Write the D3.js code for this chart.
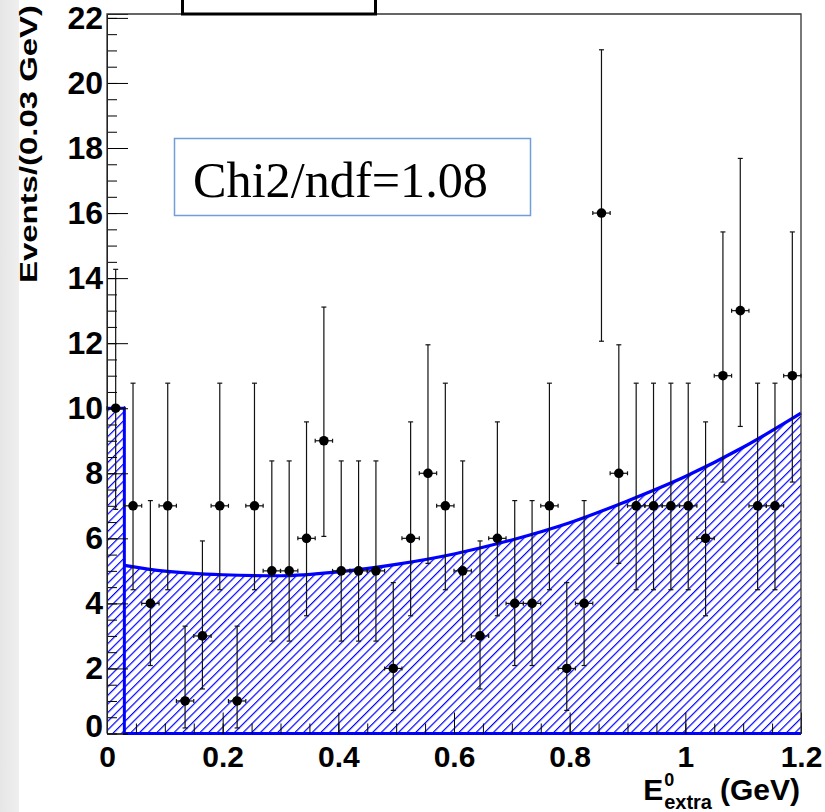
<!doctype html>
<html lang="en">
<head>
<meta charset="utf-8">
<title>E extra fit</title>
<script src="https://d3js.org/d3.v7.min.js"></script>
<style>
  body { margin: 0; background: #fff; }
  svg { display: block; }
  .tick text { font-family: "Liberation Sans", Arial, sans-serif; font-weight: bold; fill: #000; }
  .axis path, .axis line { stroke: #000; }
</style>
</head>
<body>
<script>
// bin centres (GeV), 0.03 GeV bins
const binCenter = [0.015, 0.045, 0.075, 0.105, 0.135, 0.165, 0.195, 0.225, 0.255, 0.285,
                   0.315, 0.345, 0.375, 0.405, 0.435, 0.465, 0.495, 0.525, 0.555, 0.585,
                   0.615, 0.645, 0.675, 0.705, 0.735, 0.765, 0.795, 0.825, 0.855, 0.885,
                   0.915, 0.945, 0.975, 1.005, 1.035, 1.065, 1.095, 1.125, 1.155, 1.185];
const counts = [10, 7, 4, 7, 1, 3, 7, 1, 7, 5,
                5, 6, 9, 5, 5, 5, 2, 6, 8, 7,
                5, 3, 6, 4, 4, 7, 2, 4, 16, 8,
                7, 7, 7, 7, 6, 11, 13, 7, 7, 11];
const binHalf = 0.015;

// asymmetric error bar ends, looked up by count
const errN    = [1, 2, 3, 4, 5, 6, 7, 8, 9, 10, 11, 13, 16];
const errLow  = [0.17, 0.71, 1.37, 2.09, 2.84, 3.62, 4.42, 5.23, 6.06, 6.89, 7.73, 9.44, 12.06];
const errHigh = [3.30, 4.64, 5.92, 7.16, 8.38, 9.58, 10.77, 11.95, 13.11, 14.27, 15.42, 17.68, 21.02];

// fit: narrow first bin + smooth background
const peakEdges = [0, 0.03];
const peakHeight = 10;
const fitX = [0.03, 0.1, 0.2, 0.3, 0.4, 0.5, 0.6, 0.7, 0.8, 0.9, 1.0, 1.1, 1.2];
const fitY = [5.17, 4.99, 4.88, 4.85, 4.97, 5.2, 5.52, 5.95, 6.48, 7.15, 7.9, 8.8, 9.85];

const yTicks = [0, 2, 4, 6, 8, 10, 12, 14, 16, 18, 20, 22];
const xTicks = [0, 0.2, 0.4, 0.6, 0.8, 1, 1.2];

const W = 825, H = 812;
const pLeft = 107, pRight = 801, pTop = 14, pBottom = 733.5;

const svg = d3.select("body").append("svg")
    .attr("width", W)
    .attr("height", H);

const defs = svg.append("defs");
const grad = defs.append("linearGradient").attr("id", "strip");
grad.append("stop").attr("offset", "0%").attr("stop-color", "#e6e6e6");
grad.append("stop").attr("offset", "100%").attr("stop-color", "#efefef");

defs.append("pattern")
    .attr("id", "hatch")
    .attr("patternUnits", "userSpaceOnUse")
    .attr("width", 6.1)
    .attr("height", 6.1)
    .attr("patternTransform", "rotate(45)")
  .append("line")
    .attr("x1", 0.6).attr("y1", 0)
    .attr("x2", 0.6).attr("y2", 6.1)
    .attr("stroke", "#0000ff")
    .attr("stroke-width", 1.2);

// slide strip at the left edge
svg.append("rect")
    .attr("x", 0).attr("y", 0)
    .attr("width", 19).attr("height", H)
    .attr("fill", "url(#strip)");

const x = d3.scaleLinear().domain([0, 1.2]).range([pLeft, pRight]);
const y = d3.scaleLinear().domain([0, 22.12]).range([pBottom, pTop]);

// hatched fit areas
svg.append("rect")
    .attr("x", x(peakEdges[0]))
    .attr("y", y(peakHeight))
    .attr("width", x(peakEdges[1]) - x(peakEdges[0]))
    .attr("height", y(0) - y(peakHeight))
    .attr("fill", "url(#hatch)");

const fitPts = fitX.map((v, i) => [v, fitY[i]]);

svg.append("path")
    .datum(fitPts)
    .attr("fill", "url(#hatch)")
    .attr("d", d3.area()
        .x(d => x(d[0]))
        .y0(y(0))
        .y1(d => y(d[1]))
        .curve(d3.curveMonotoneX));

// blue outline
const outline = [[peakEdges[0], peakHeight], [peakEdges[1], peakHeight], [peakEdges[1], 0], [fitX[fitX.length - 1], 0]];
svg.append("path")
    .datum(outline)
    .attr("fill", "none")
    .attr("stroke", "#0000ff")
    .attr("stroke-width", 3)
    .attr("d", d3.line().x(d => x(d[0])).y(d => y(d[1])));

svg.append("path")
    .datum(fitPts)
    .attr("fill", "none")
    .attr("stroke", "#0000ff")
    .attr("stroke-width", 3.2)
    .attr("d", d3.line()
        .x(d => x(d[0]))
        .y(d => y(d[1]))
        .curve(d3.curveMonotoneX));

// axes, ticks drawn inside the frame
const yAxis = svg.append("g")
    .attr("class", "axis")
    .attr("transform", `translate(${pLeft},0)`)
    .call(d3.axisLeft(y).tickValues(d3.range(0, 22.01, 0.5)).tickSize(-10).tickFormat(""));
yAxis.select(".domain").remove();

const yMajor = svg.append("g")
    .attr("class", "axis")
    .attr("transform", `translate(${pLeft},0)`)
    .call(d3.axisLeft(y).tickValues(yTicks).tickSize(-21).tickPadding(5).tickFormat(d3.format("d")));
yMajor.selectAll(".tick text").attr("font-size", 32).attr("x", -4);
yMajor.selectAll(".tick text").filter(d => d === 0).attr("dy", "0.08em");

const xMinor = svg.append("g")
    .attr("class", "axis")
    .attr("transform", `translate(0,${pBottom})`)
    .call(d3.axisBottom(x).tickValues(d3.range(0, 1.2001, 0.05)).tickSize(-10).tickFormat(""));
xMinor.select(".domain").remove();

const xMajor = svg.append("g")
    .attr("class", "axis")
    .attr("transform", `translate(0,${pBottom})`)
    .call(d3.axisBottom(x).tickValues(xTicks).tickSize(-21).tickPadding(12).tickFormat(d3.format("~g")));
xMajor.selectAll(".tick text").attr("font-size", 30);
xMajor.select(".domain").remove();

// frame: left, top, right
svg.append("path")
    .attr("d", `M${pLeft},${pBottom}V${pTop}H${pRight}V${pBottom}`)
    .attr("fill", "none")
    .attr("stroke", "#333")
    .attr("stroke-width", 1.3);

// data points with error bars
const pts = binCenter.map((c, i) => {
    const k = errN.indexOf(counts[i]);
    return {c: c, n: counts[i], lo: errLow[k], hi: errHigh[k]};
});

const eb = svg.append("g")
    .attr("stroke", "#111")
    .attr("stroke-width", 1.2);

eb.selectAll(".vbar").data(pts).enter().append("line")
    .attr("x1", d => x(d.c)).attr("x2", d => x(d.c))
    .attr("y1", d => y(d.lo)).attr("y2", d => y(d.hi));
eb.selectAll(".capLo").data(pts).enter().append("line")
    .attr("x1", d => x(d.c) - 2.5).attr("x2", d => x(d.c) + 2.5)
    .attr("y1", d => y(d.lo)).attr("y2", d => y(d.lo));
eb.selectAll(".capHi").data(pts).enter().append("line")
    .attr("x1", d => x(d.c) - 2.5).attr("x2", d => x(d.c) + 2.5)
    .attr("y1", d => y(d.hi)).attr("y2", d => y(d.hi));
eb.selectAll(".hbar").data(pts).enter().append("line")
    .attr("x1", d => x(d.c - binHalf)).attr("x2", d => x(d.c + binHalf))
    .attr("y1", d => y(d.n)).attr("y2", d => y(d.n));
eb.selectAll(".capL").data(pts).enter().append("line")
    .attr("x1", d => x(d.c - binHalf)).attr("x2", d => x(d.c - binHalf))
    .attr("y1", d => y(d.n) - 2).attr("y2", d => y(d.n) + 2);
eb.selectAll(".capR").data(pts).enter().append("line")
    .attr("x1", d => x(d.c + binHalf)).attr("x2", d => x(d.c + binHalf))
    .attr("y1", d => y(d.n) - 2).attr("y2", d => y(d.n) + 2);

svg.append("g").selectAll("circle")
    .data(pts)
    .enter().append("circle")
    .attr("cx", d => x(d.c))
    .attr("cy", d => y(d.n))
    .attr("r", 4.8)
    .attr("fill", "#000");

// axis titles
svg.append("text")
    .attr("transform", "translate(37,283) rotate(-90)")
    .attr("font-family", "Liberation Sans, Arial, sans-serif")
    .attr("font-weight", "bold")
    .attr("font-size", 24)
    .attr("textLength", 278)
    .attr("lengthAdjust", "spacingAndGlyphs")
    .text("Events/(0.03 GeV)");

const font = "Liberation Sans, Arial, sans-serif";
const gev = svg.append("text")
    .attr("x", pRight - 1).attr("y", 800)
    .attr("text-anchor", "end")
    .attr("font-family", font).attr("font-weight", "bold").attr("font-size", 30)
    .text("(GeV)");
const gevStart = pRight - 1 - gev.node().getComputedTextLength();
const sub = svg.append("text")
    .attr("x", gevStart - 8).attr("y", 809)
    .attr("text-anchor", "end")
    .attr("font-family", font).attr("font-weight", "bold").attr("font-size", 20)
    .text("extra");
const subStart = gevStart - 8 - sub.node().getComputedTextLength();
svg.append("text")
    .attr("x", subStart).attr("y", 786)
    .attr("font-family", font).attr("font-weight", "bold").attr("font-size", 18)
    .text("0");
svg.append("text")
    .attr("x", subStart - 1).attr("y", 800)
    .attr("text-anchor", "end")
    .attr("font-family", font).attr("font-weight", "bold").attr("font-size", 30)
    .text("E");

// fit quality box
svg.append("rect")
    .attr("x", 174.5).attr("y", 138.5)
    .attr("width", 356).attr("height", 77)
    .attr("fill", "#fff")
    .attr("stroke", "#6f9fd6")
    .attr("stroke-width", 1.5);
svg.append("text")
    .attr("x", 193).attr("y", 197)
    .attr("font-family", "Liberation Serif, Times New Roman, serif")
    .attr("font-size", 50)
    .attr("textLength", 295)
    .attr("lengthAdjust", "spacingAndGlyphs")
    .text("Chi2/ndf=1.08");

// legend box cut by the top edge
svg.append("rect")
    .attr("x", 182.5).attr("y", -20)
    .attr("width", 193).attr("height", 34)
    .attr("fill", "#fff")
    .attr("stroke", "#000")
    .attr("stroke-width", 3);
</script>
</body>
</html>
